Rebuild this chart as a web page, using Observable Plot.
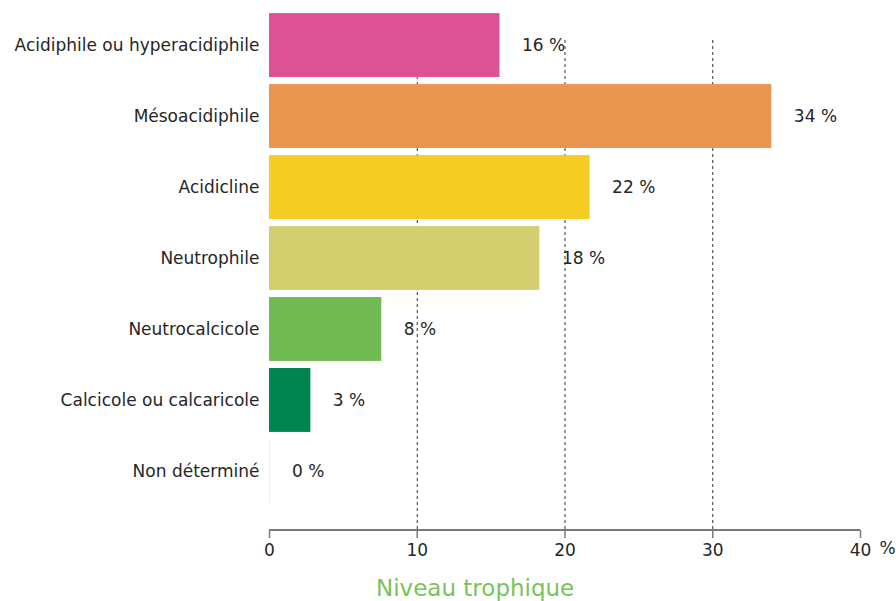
<!DOCTYPE html>
<html>
<head>
<meta charset="utf-8">
<script src="https://cdn.jsdelivr.net/npm/d3@7"></script>
<script src="https://cdn.jsdelivr.net/npm/@observablehq/plot@0.6"></script>
<style>
  html, body { margin: 0; padding: 0; background: #fff; }
  #wrap { position: relative; width: 896px; height: 601px; font-family: "DejaVu Sans", sans-serif; }
  #chart { position: absolute; left: 0; top: 0; }
  #chart svg { display: block; }
  #title { position: absolute; left: 376px; top: 577px; font-size: 23px; line-height: 23px; color: #78c35a; white-space: nowrap; }
</style>
</head>
<body>
<div id="wrap">
  <div id="chart"></div>
  <div id="title">Niveau trophique</div>
</div>
<script>
// Soil acidity preference classes and their share (%)
const categories = [
  "Acidiphile ou hyperacidiphile",
  "Mésoacidiphile",
  "Acidicline",
  "Neutrophile",
  "Neutrocalcicole",
  "Calcicole ou calcaricole",
  "Non déterminé"
];
const values = [15.6, 34.0, 21.7, 18.3, 7.6, 2.8, 0.04];
const colors = ["#dd5294", "#ea9650", "#f5cd23", "#d4cf6e", "#72bb54", "#00844f", "#e2e2e2"];
const xTicks = [0, 10, 20, 30, 40];

const rows = categories.map((c, i) => ({category: c, value: values[i], color: colors[i]}));

const W = 896, H = 566, MB = 36;
const textColor = "#262626";

const chart = Plot.plot({
  width: W,
  height: H,
  marginTop: 6,
  marginLeft: 269,
  marginRight: 36,
  marginBottom: MB,
  insetBottom: 20,
  style: {fontFamily: "DejaVu Sans, sans-serif", fontSize: "17px", color: textColor, background: "#fff"},
  x: {domain: [0, 40]},
  y: {domain: categories, padding: 0.1, round: false},
  marks: [
    Plot.gridX(xTicks.slice(1, -1), {stroke: "#333", strokeOpacity: 1, strokeWidth: 1, strokeDasharray: "3,3", insetTop: 34}),
    Plot.barX(rows, {y: "category", x: "value", fill: "color"}),
    Plot.text(rows, {
      y: "category", x: "value",
      text: d => `${Math.round(d.value)} %`,
      textAnchor: "start", dx: 22, fill: textColor, fontSize: 17
    }),
    Plot.axisY({tickSize: 0, tickPadding: 10, label: null, fontSize: 17, fill: textColor}),
    Plot.axisX({
      ticks: xTicks, tickSize: 8, tickPadding: 5, label: null,
      tickFormat: d => String(d), fontSize: 17, stroke: "#7a7a7a", strokeWidth: 1.5, fill: textColor
    }),
    Plot.text(["%"], {x: 40, text: d => d, frameAnchor: "bottom", dy: 23, dx: 19, textAnchor: "start", fontSize: 17, fill: textColor})
  ]
});

// horizontal x-axis baseline along the bottom of the frame
const x = chart.scale("x");
d3.select(chart).append("line")
  .attr("x1", x.apply(0)).attr("x2", x.apply(40))
  .attr("y1", H - MB).attr("y2", H - MB)
  .attr("stroke", "#7a7a7a").attr("stroke-width", 2);

document.getElementById("chart").appendChild(chart);
</script>
</body>
</html>
